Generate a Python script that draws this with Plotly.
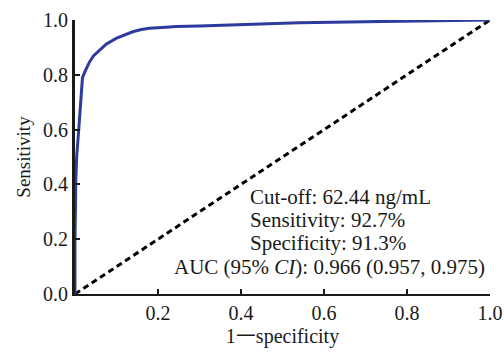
import plotly.graph_objects as go

# ROC curve points
fpr = [0.0, 0.0, 0.002, 0.004, 0.009, 0.013, 0.018, 0.025, 0.035, 0.045, 0.059,
       0.075, 0.099, 0.12, 0.139, 0.16, 0.179, 0.21, 0.244, 0.3, 0.4, 0.54,
       0.7, 0.85, 1.0]
tpr = [0.0, 0.2, 0.42, 0.5, 0.6, 0.7, 0.79, 0.815, 0.847, 0.87, 0.891,
       0.912, 0.933, 0.947, 0.957, 0.965, 0.97, 0.973, 0.976, 0.978, 0.984, 0.99,
       0.994, 0.998, 1.0]

ref_x = [0.0, 1.0]
ref_y = [0.0, 1.0]

x_ticks = [0.2, 0.4, 0.6, 0.8, 1.0]
x_tick_labels = ["0.2", "0.4", "0.6", "0.8", "1.0"]
y_ticks = [0.0, 0.2, 0.4, 0.6, 0.8, 1.0]
y_tick_labels = ["0.0", "0.2", "0.4", "0.6", "0.8", "1.0"]

info_lines = ["Cut-off: 62.44 ng/mL", "Sensitivity: 92.7%", "Specificity: 91.3%"]
auc_line = "AUC (95% <i>CI</i>): 0.966 (0.957, 0.975)"

FONT = "Liberation Serif, Times New Roman, serif"

fig = go.Figure()
fig.add_trace(go.Scatter(x=ref_x, y=ref_y, mode="lines",
                         line=dict(color="black", width=3, dash="6px,4px"),
                         cliponaxis=False, showlegend=False, hoverinfo="skip"))
fig.add_trace(go.Scatter(x=fpr, y=tpr, mode="lines",
                         line=dict(color="#2d3a9e", width=3),
                         cliponaxis=False, showlegend=False))

info_y = [0.354, 0.270, 0.186]
for txt, yy in zip(info_lines, info_y):
    fig.add_annotation(x=0.416, y=yy, xref="x", yref="y", text=txt,
                       showarrow=False, xanchor="left", yanchor="middle",
                       font=dict(family=FONT, size=21, color="#1a1a1a"))
fig.add_annotation(x=0.992, y=0.099, xref="x", yref="y", text=auc_line,
                   showarrow=False, xanchor="right", yanchor="middle",
                   font=dict(family=FONT, size=21, color="#1a1a1a"))

fig.update_layout(
    width=504, height=360,
    margin=dict(l=75, r=14, t=20, b=66, autoexpand=False),
    paper_bgcolor="white", plot_bgcolor="white",
    font=dict(family=FONT, size=20, color="#1a1a1a"),
    xaxis=dict(range=[0, 1], tickvals=x_ticks, ticktext=x_tick_labels,
               showgrid=False, zeroline=False, showline=True, automargin=False,
               linecolor="#1a1a1a", linewidth=2, ticks="inside", ticklen=5,
               tickwidth=2, tickcolor="#1a1a1a",
               tickfont=dict(family=FONT, size=20),
               title=dict(text="1一specificity", standoff=6,
                          font=dict(family=FONT, size=20))),
    yaxis=dict(range=[0, 1], tickvals=y_ticks, ticktext=y_tick_labels,
               showgrid=False, zeroline=False, showline=True, automargin=False,
               linecolor="#1a1a1a", linewidth=3, ticks="inside", ticklen=5,
               tickwidth=2, tickcolor="#1a1a1a",
               tickfont=dict(family=FONT, size=20),
               title=dict(text="Sensitivity", standoff=8,
                          font=dict(family=FONT, size=19))),
)

fig.write_html("out.html",
               config={"displayModeBar": False},
               post_script="document.body.style.margin='0';"
                           "document.body.style.overflow='hidden';")
